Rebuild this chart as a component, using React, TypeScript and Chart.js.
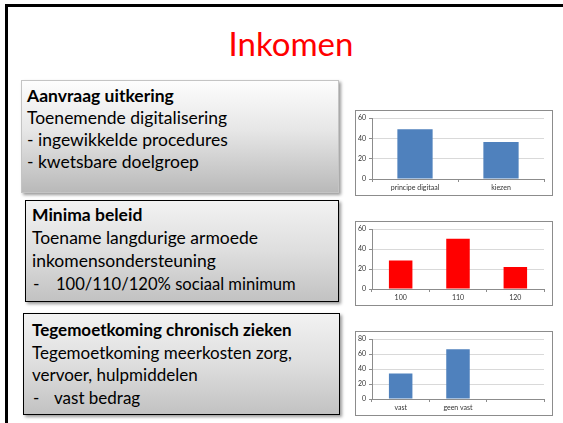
import React, { useEffect, useRef } from "react";
import { Chart, registerables } from "chart.js";

Chart.register(...registerables);

// ---- Data ----
const aanvraagLabels = ["principe digitaal", "kiezen"];
const aanvraagValues = [49, 36.5];
const aanvraagTicks = ["0", "20", "40", "60"];

const minimaLabels = ["100", "110", "120"];
const minimaValues = [28.5, 50.5, 22];
const minimaTicks = ["0", "20", "40", "60"];

const chronischLabels = ["vast", "geen vast", ""];
const chronischValues: (number | null)[] = [34, 66.5, null];
const chronischTicks = ["0", "20", "40", "60", "80"];

const BLUE = "#4F81BD";
const RED = "#FF0000";
const FONT = "Lato, 'Open Sans', sans-serif";

type MiniProps = {
  labels: string[];
  values: (number | null)[];
  tickLabels: string[];
  color: string;
  left: number;
  top: number;
  width: number;
  height: number;
};

function MiniBar({ labels, values, tickLabels, color, left, top, width, height }: MiniProps) {
  const ref = useRef<HTMLCanvasElement | null>(null);
  useEffect(() => {
    if (!ref.current) return;
    const maxV = Number(tickLabels[tickLabels.length - 1]);
    const step = Number(tickLabels[1]) - Number(tickLabels[0]);
    const chart = new Chart(ref.current, {
      type: "bar",
      data: {
        labels,
        datasets: [
          {
            data: values as any,
            backgroundColor: color,
            borderWidth: 0,
            barPercentage: 0.41,
            categoryPercentage: 1,
          },
        ],
      },
      options: {
        animation: false,
        responsive: false,
        maintainAspectRatio: false,
        devicePixelRatio: 1,
        layout: { padding: { top: 6, right: 8, left: 0, bottom: 0 } },
        plugins: { legend: { display: false }, tooltip: { enabled: false } },
        scales: {
          x: {
            grid: {
              display: true,
              drawOnChartArea: false,
              drawTicks: true,
              tickLength: 3,
              color: "#8c8c8c",
              offset: true,
            },
            border: { display: true, color: "#8c8c8c" },
            ticks: {
              font: { family: FONT, size: 7 },
              color: "#333",
              padding: 2,
              maxRotation: 0,
              autoSkip: false,
            },
            afterFit: (s: any) => {
              s.height = 16;
            },
          },
          y: {
            min: 0,
            max: maxV,
            ticks: {
              stepSize: step,
              font: { family: FONT, size: 7 },
              color: "#333",
              padding: 3,
            },
            grid: { color: "#d9d9d9", tickColor: "#8c8c8c", tickLength: 3, drawTicks: true },
            border: { display: true, color: "#8c8c8c" },
            afterFit: (s: any) => {
              s.width = 16;
            },
          },
        },
      } as any,
    });
    return () => chart.destroy();
  }, []);
  return (
    <div
      style={{
        position: "absolute",
        left,
        top,
        width,
        height,
        border: "1px solid #8c8c8c",
        background: "#fff",
      }}
    >
      <canvas ref={ref} width={width} height={height} style={{ width, height, display: "block" }} />
    </div>
  );
}

const textBase: React.CSSProperties = {
  fontFamily: FONT,
  fontSize: 17.5,
  lineHeight: "22px",
  color: "#000",
  whiteSpace: "nowrap",
};

export default function App() {
  return (
    <div
      style={{
        position: "fixed",
        left: 0,
        top: 0,
        width: 563,
        height: 423,
        background: "#fff",
        overflow: "hidden",
      }}
    >
      {/* slide frame */}
      <div
        style={{
          position: "absolute",
          left: 5,
          top: 4,
          width: 700,
          height: 600,
          borderTop: "3px solid #000",
          borderLeft: "3px solid #000",
        }}
      />
      {/* title */}
      <div
        style={{
          position: "absolute",
          left: 191,
          width: 200,
          top: 27,
          textAlign: "center",
          fontFamily: FONT,
          fontSize: 33,
          lineHeight: "33px",
          color: "#FF0000",
        }}
      >
        Inkomen
      </div>

      {/* box 1 */}
      <div
        style={{
          position: "absolute",
          left: 21,
          top: 80,
          width: 316,
          height: 111,
          border: "1px solid #c4c4c4",
          background: "linear-gradient(#fdfdfd 0%, #e6e6e6 45%, #b9b9b9 100%)",
          boxShadow: "2px 2px 3px rgba(0,0,0,0.4)",
        }}
      />
      <div style={{ ...textBase, position: "absolute", left: 27, top: 85 }}>
        <div style={{ fontWeight: 700 }}>Aanvraag uitkering</div>
        <div>Toenemende digitalisering</div>
        <div>- ingewikkelde procedures</div>
        <div>- kwetsbare doelgroep</div>
      </div>

      {/* box 2 */}
      <div
        style={{
          position: "absolute",
          left: 25,
          top: 200,
          width: 312,
          height: 100,
          border: "1px solid #000",
          background: "linear-gradient(#f2f2f2 0%, #dedede 50%, #c2c2c2 100%)",
          boxShadow: "2px 2px 3px rgba(0,0,0,0.4)",
        }}
      />
      <div style={{ ...textBase, lineHeight: "23px", position: "absolute", left: 32, top: 203 }}>
        <div style={{ fontWeight: 700 }}>Minima beleid</div>
        <div>Toename langdurige armoede</div>
        <div>inkomensondersteuning</div>
        <div>
          <span style={{ display: "inline-block", width: 23, paddingLeft: 1 }}>-</span>
          <span style={{ fontSize: 16.6 }}>100/110/120% sociaal minimum</span>
        </div>
      </div>

      {/* box 3 */}
      <div
        style={{
          position: "absolute",
          left: 23,
          top: 313,
          width: 315,
          height: 100,
          border: "1px solid #000",
          background: "linear-gradient(#f2f2f2 0%, #dedede 50%, #c2c2c2 100%)",
          boxShadow: "2px 2px 3px rgba(0,0,0,0.4)",
        }}
      />
      <div
        style={{ ...textBase, fontSize: 17, lineHeight: "22.7px", position: "absolute", left: 32, top: 319 }}
      >
        <div style={{ fontWeight: 700 }}>Tegemoetkoming chronisch zieken</div>
        <div>Tegemoetkoming meerkosten zorg,</div>
        <div>vervoer, hulpmiddelen</div>
        <div>
          <span style={{ display: "inline-block", width: 21, paddingLeft: 1 }}>-</span>
          vast bedrag
        </div>
      </div>

      {/* charts */}
      <MiniBar
        labels={aanvraagLabels}
        values={aanvraagValues}
        tickLabels={aanvraagTicks}
        color={BLUE}
        left={355}
        top={110}
        width={196}
        height={84}
      />
      <MiniBar
        labels={minimaLabels}
        values={minimaValues}
        tickLabels={minimaTicks}
        color={RED}
        left={355}
        top={221}
        width={196}
        height={83}
      />
      <MiniBar
        labels={chronischLabels}
        values={chronischValues}
        tickLabels={chronischTicks}
        color={BLUE}
        left={355}
        top={331}
        width={196}
        height={83}
      />
    </div>
  );
}
